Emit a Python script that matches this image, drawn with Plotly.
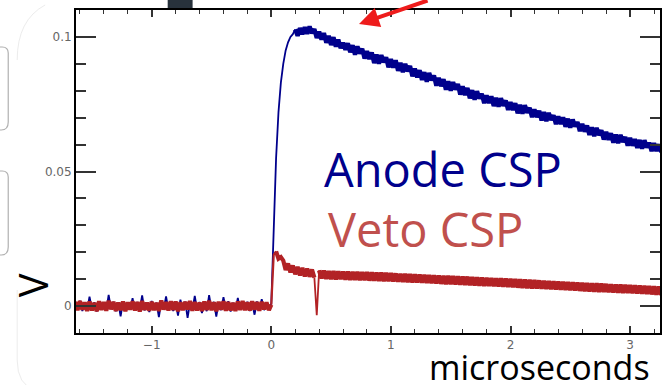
import plotly.graph_objects as go

# ---------------- data ----------------
# sample times, microseconds (regular 0.02 us grid)
t_start_us = -1.64
t_step_us = 0.02
n_samples = 246
time_us = [round(t_start_us + t_step_us * i, 2) for i in range(n_samples)]

# Anode CSP trace, millivolts
anode_mv = [
    # baseline (t < 0)
    1.5, -1.2, 2.0, -1.8, 1.1, -1.5, 3.5, -1.0, 1.4, -2.0,
    1.8, -1.3, 1.2, -1.6, 4.2, -1.1, 1.6, -1.9, 1.3, -3.8,
    1.7, -1.4, 1.0, -1.2, 2.9, -1.7, 1.5, -1.3, 4.0, -1.6,
    1.2, -2.2, 1.9, -1.4, 1.3, -4.1, 1.6, -1.2, 3.6, -1.5,
    1.4, -1.8, 1.1, -3.5, 2.4, -1.3, 1.7, -4.4, 1.2, -1.6,
    3.8, -1.4, 1.5, -2.6, 1.3, -1.9, 4.1, -1.2, 1.6, -3.9,
    1.4, -1.5, 3.3, -1.1, 1.8, -2.0, 1.2, -1.7, 3.0, -1.4,
    1.5, -1.2, 1.6, -1.8, 1.0, -3.2, 1.7, -1.3, 2.6, -1.5,
    1.3, -1.1,
    # rise (0.00 .. 0.18)
    1.0, 28.0, 55.0, 72.0, 83.0, 90.0, 95.0, 98.0, 100.0, 101.0,
    # decay (0.20 .. 3.26)
    102.8, 100.4, 103.3, 101.0, 103.6,
    101.2, 103.9, 101.4, 102.9, 99.6,
    102.0, 99.0, 101.4, 97.8, 100.4,
    97.0, 99.9, 96.4, 99.0, 95.8,
    97.9, 95.2, 97.6, 94.3, 96.9,
    93.4, 96.5, 93.8, 95.6, 92.0,
    94.7, 91.8, 94.2, 90.3, 93.4,
    90.1, 93.2, 90.6, 92.4, 88.7,
    91.8, 88.6, 91.3, 87.4, 90.4,
    86.9, 90.0, 87.2, 89.2, 85.4,
    88.2, 85.0, 87.6, 84.0, 86.9,
    83.4, 86.6, 83.9, 85.7, 81.9,
    84.8, 81.7, 84.3, 80.4, 83.5,
    80.0, 83.2, 80.4, 82.5, 78.6,
    81.6, 78.4, 81.0, 77.2, 80.2,
    76.7, 79.8, 77.1, 78.9, 75.4,
    78.3, 75.4, 77.9, 74.3, 77.4,
    74.1, 77.2, 74.4, 76.4, 72.9,
    75.8, 72.8, 75.4, 71.6, 74.8,
    71.5, 74.6, 71.8, 73.7, 70.2,
    73.1, 70.2, 72.6, 69.0, 72.1,
    68.7, 71.8, 69.1, 70.9, 67.6,
    70.5, 67.6, 70.1, 66.6, 69.6,
    66.3, 69.3, 66.7, 68.4, 65.0,
    67.7, 64.8, 67.1, 63.6, 66.4,
    63.1, 66.2, 63.5, 65.3, 61.9,
    64.7, 61.8, 64.2, 60.7, 63.7,
    60.5, 63.6, 60.9, 62.8, 59.6,
    62.5, 59.6, 62.0, 58.8, 61.7,
    58.5, 61.6, 58.9, 60.7, 57.6,
    60.5, 57.6, 60.1, 57.2,
]

# Veto CSP trace, millivolts
veto_mv = [
    # baseline (t < 0)
    1.6, -1.5, 1.9, -1.3, 1.4, -1.8, 1.7, -1.6, 1.2, -1.9,
    1.8, -1.4, 1.5, -1.7, 2.0, -1.2, 1.6, -1.8, 1.3, -1.5,
    1.7, -1.9, 1.4, -1.3, 1.8, -1.6, 1.5, -2.0, 1.9, -1.4,
    1.3, -1.7, 1.6, -1.5, 1.2, -1.8, 2.1, -1.3, 1.5, -1.6,
    1.8, -1.4, 1.7, -1.9, 1.4, -1.5, 1.6, -1.2, 1.9, -1.7,
    1.5, -1.6, 1.3, -1.8, 1.7, -1.4, 2.0, -1.5, 1.4, -1.9,
    1.6, -1.3, 1.8, -1.7, 1.5, -1.6, 1.2, -1.8, 1.7, -1.4,
    1.9, -1.5, 1.4, -1.6, 1.8, -1.3, 1.5, -1.7, 1.6, -1.2,
    1.4, -1.5,
    # pulse (0.00 .. 3.26)
    0.5, 19.0, 20.3, 17.6, 18.2,
    16.9, 13.4, 15.8, 12.5, 15.1,
    11.8, 14.6, 11.4, 14.2, 11.0,
    13.9, 10.9, 13.6, 10.6, -3.4,
    13.3, 10.3, 13.2, 10.1, 13.0,
    10.0, 13.0, 9.9, 12.9, 10.0,
    12.8, 9.8, 12.8, 9.7, 12.7,
    9.7, 12.7, 9.6, 12.6, 9.6,
    12.6, 9.5, 12.5, 9.5, 12.4,
    9.4, 12.4, 9.3, 12.3, 9.3,
    12.2, 9.2, 12.1, 9.1, 12.0,
    9.0, 12.0, 8.9, 11.9, 8.8,
    11.8, 8.8, 11.7, 8.7, 11.6,
    8.6, 11.5, 8.5, 11.4, 8.4,
    11.3, 8.3, 11.2, 8.2, 11.2,
    8.2, 11.1, 8.1, 11.0, 8.0,
    10.9, 7.9, 10.9, 7.8, 10.8,
    7.7, 10.7, 7.6, 10.6, 7.5,
    10.5, 7.5, 10.4, 7.4, 10.3,
    7.3, 10.3, 7.2, 10.2, 7.1,
    10.1, 7.0, 10.0, 6.9, 9.9,
    6.8, 9.8, 6.7, 9.7, 6.6,
    9.6, 6.6, 9.5, 6.5, 9.4,
    6.4, 9.3, 6.3, 9.2, 6.2,
    9.1, 6.1, 9.0, 6.0, 8.9,
    5.9, 8.8, 5.8, 8.7, 5.7,
    8.6, 5.6, 8.5, 5.5, 8.4,
    5.4, 8.4, 5.3, 8.3, 5.3,
    8.2, 5.2, 8.1, 5.1, 8.0,
    5.0, 8.0, 4.9, 7.9, 4.9,
    7.8, 4.8, 7.7, 4.7, 7.6,
    4.6, 7.5, 4.5, 7.4, 4.4,
    7.3, 4.3, 7.2, 4.2,
]

x_tick_vals = [-1, 0, 1, 2, 3]
y_tick_vals = [0, 0.05, 0.1]
x_range = [-1.633, 3.25]
y_range = [-0.0100, 0.1100]

anode_v = [v / 1000.0 for v in anode_mv]
veto_v = [v / 1000.0 for v in veto_mv]

# ---------------- figure ----------------
W, H = 667, 385
ML, MR, MT, MB = 76, 5, 10, 52
PW, PH = W - ML - MR, H - MT - MB


def px(xp):
    return (xp - ML) / PW


def py(yp):
    return (H - MB - yp) / PH


ANODE_COLOR = "#00008c"
VETO_COLOR = "#b22225"

fig = go.Figure()


def add_segmented(ys, color, name, pieces):
    """Draw one series; pieces = [(start, end, width)] with inclusive ends."""
    for a, b, w in pieces:
        fig.add_trace(go.Scatter(x=time_us[a:b + 1], y=ys[a:b + 1], mode="lines",
                                 line=dict(color=color, width=w),
                                 name=name, showlegend=False))


# baseline + fast rise drawn thin, noisy decay drawn thick
add_segmented(anode_v, ANODE_COLOR, "Anode CSP",
              [(0, 92, 1.8), (92, n_samples - 1, 4.4)])
add_segmented(veto_v, VETO_COLOR, "Veto CSP",
              [(0, 82, 4.2), (82, 84, 2.2), (84, 100, 4.2), (100, 102, 1.8),
               (102, n_samples - 1, 4.4)])

axis_common = dict(showline=True, linecolor="black", linewidth=2, mirror="ticks",
                   ticks="inside", tickcolor="#333333", tickwidth=1.5,
                   showgrid=False, zeroline=False,
                   tickfont=dict(family="DejaVu Sans", size=12, color="#666666"))

fig.update_xaxes(range=x_range, tickvals=x_tick_vals, ticklen=7,
                 minor=dict(dtick=0.2, tick0=0, ticks="inside", ticklen=4,
                            tickcolor="#333333", tickwidth=1.2),
                 **axis_common)
fig.update_yaxes(range=y_range, tickvals=y_tick_vals, ticklen=20,
                 minor=dict(dtick=0.01, tick0=0, ticks="inside", ticklen=10,
                            tickcolor="#333333", tickwidth=1.5),
                 **axis_common)

annotations = [
    dict(text="Anode CSP", x=px(323), y=py(169), xref="paper", yref="paper",
         xanchor="left", yanchor="middle", showarrow=False,
         font=dict(family="Open Sans", size=47, color=ANODE_COLOR)),
    dict(text="Veto CSP", x=px(327), y=py(229), xref="paper", yref="paper",
         xanchor="left", yanchor="middle", showarrow=False,
         font=dict(family="Open Sans", size=47, color="#c0504d")),
    dict(text="V", x=px(32), y=py(285), xref="paper", yref="paper",
         xanchor="center", yanchor="middle", textangle=-90, showarrow=False,
         font=dict(family="Open Sans", size=40, color="black")),
    dict(text="microseconds", x=px(541), y=py(367), xref="paper", yref="paper",
         xanchor="center", yanchor="middle", showarrow=False,
         font=dict(family="Open Sans", size=34, color="black")),
    # red arrow decoration
    dict(text="", x=px(360), y=py(24), xref="paper", yref="paper",
         ax=70, ay=-42, showarrow=True, arrowhead=2, arrowsize=1.0,
         arrowwidth=4, arrowcolor="#ee1c1c"),
]

shapes = [
    # dark block at top
    dict(type="rect", xref="paper", yref="paper",
         x0=px(168), x1=px(193), y0=py(9), y1=py(-5),
         fillcolor="#28323c", line=dict(width=0), layer="below"),
    # grey rounded boxes on the left edge
    dict(type="path", xref="paper", yref="paper",
         path=f"M {px(-5)},{py(47)} L {px(2)},{py(47)} Q {px(8)},{py(47)} {px(8)},{py(53)} "
              f"L {px(8)},{py(122)} Q {px(8)},{py(130)} {px(1)},{py(130)} L {px(-5)},{py(130)}",
         line=dict(color="#b0b0b0", width=1.2)),
    dict(type="path", xref="paper", yref="paper",
         path=f"M {px(-5)},{py(171)} L {px(2)},{py(171)} Q {px(8)},{py(171)} {px(8)},{py(177)} "
              f"L {px(8)},{py(247)} Q {px(8)},{py(255)} {px(1)},{py(255)} L {px(-5)},{py(255)}",
         line=dict(color="#b0b0b0", width=1.2)),
    # faint large rounded frame
    dict(type="path", xref="paper", yref="paper",
         path=f"M {px(17)},{py(60)} Q {px(17)},{py(20)} {px(45)},{py(5)}",
         line=dict(color="#ececec", width=1)),
    dict(type="path", xref="paper", yref="paper",
         path=f"M {px(17)},{py(290)} L {px(17)},{py(360)} Q {px(17)},{py(385)} {px(35)},{py(390)}",
         line=dict(color="#ececec", width=1)),
]

fig.update_layout(width=W, height=H, margin=dict(l=ML, r=MR, t=MT, b=MB),
                  paper_bgcolor="white", plot_bgcolor="white",
                  annotations=annotations, shapes=shapes, showlegend=False)

fig.write_html("out.html")
